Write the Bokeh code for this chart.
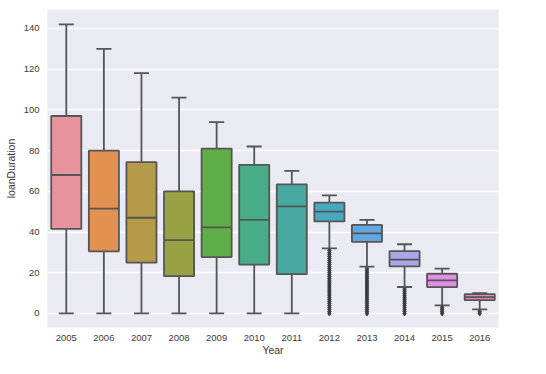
from bokeh.plotting import figure
from bokeh.models import ColumnDataSource, Range1d, FixedTicker
from bokeh.transform import dodge
from bokeh.embed import file_html
from bokeh.resources import INLINE

years = ["2005", "2006", "2007", "2008", "2009", "2010", "2011", "2012", "2013", "2014", "2015", "2016"]
lower_whisker = [0, 0, 0, 0, 0, 0, 0, 32, 23, 13, 4, 2]
q1 = [41.5, 30.5, 25, 18.3, 27.7, 24, 19.3, 45.2, 35.2, 23.1, 12.9, 6.5]
median = [68, 51.5, 47, 36, 42.3, 46, 52.6, 50, 39.3, 26.4, 16.2, 8]
q3 = [97, 80, 74.3, 60, 81, 73, 63.4, 54.4, 43.5, 30.6, 19.5, 9.5]
upper_whisker = [142, 130, 118, 106, 94, 82, 70, 58, 46, 34, 22, 10]

outliers = {
    "2012": [0, 1, 2, 3, 4, 5, 6, 7, 8, 9, 10, 11, 12, 13, 14, 15, 16, 17, 18, 19, 20, 21, 22, 23, 24, 25, 26, 27, 28, 29, 30, 31],
    "2013": [0, 1, 2, 3, 4, 5, 6, 7, 8, 9, 10, 11, 12, 13, 14, 15, 16, 17, 18, 19, 20, 21, 22],
    "2014": [0, 1, 2, 3, 4, 5, 6, 7, 8, 9, 10, 11, 12],
    "2015": [0, 1, 2, 3],
    "2016": [0, 1],
}

colors = ["#e8949f", "#e29150", "#b59a4a", "#97a245", "#60ae47", "#48ac88",
          "#47a8a0", "#47a9be", "#62a6df", "#aea4e8", "#e18ee8", "#e988b8"]

edge = "#555555"
text_color = "#3a3a3a"
font = "Liberation Sans"

src = ColumnDataSource(dict(year=years, lw=lower_whisker, q1=q1, med=median,
                            q3=q3, uw=upper_whisker, color=colors))

p = figure(x_range=years, y_range=Range1d(-6.9, 149.3), width=538, height=366,
           output_backend="svg", toolbar_location=None,
           min_border_left=47, min_border_right=40, min_border_top=9, min_border_bottom=39,
           background_fill_color="#eaeaf2", border_fill_color="white")
p.outline_line_color = None

# whiskers
p.segment(x0="year", y0="q3", x1="year", y1="uw", source=src, line_color=edge, line_width=1.8)
p.segment(x0="year", y0="lw", x1="year", y1="q1", source=src, line_color=edge, line_width=1.8)

# outliers
ox, oy = [], []
for yr, vals in outliers.items():
    for v in vals:
        ox.append(yr)
        oy.append(v)
p.scatter(x=ox, y=oy, marker="diamond", size=5, fill_color="#3c3c3c", line_color="#3c3c3c")

# caps
left_cap = dodge("year", -0.2, range=p.x_range)
right_cap = dodge("year", 0.2, range=p.x_range)
p.segment(x0=left_cap, y0="uw", x1=right_cap, y1="uw", source=src, line_color=edge, line_width=1.8)
p.segment(x0=left_cap, y0="lw", x1=right_cap, y1="lw", source=src, line_color=edge, line_width=1.8)

# boxes
p.vbar(x="year", bottom="q1", top="q3", width=0.8, source=src, fill_color="color",
       line_color=edge, line_width=1.8)
# medians
left_med = dodge("year", -0.4, range=p.x_range)
right_med = dodge("year", 0.4, range=p.x_range)
p.segment(x0=left_med, y0="med", x1=right_med, y1="med", source=src, line_color=edge, line_width=1.8)

p.xgrid.grid_line_color = None
p.ygrid.grid_line_color = "white"
p.ygrid.grid_line_width = 1.5
p.yaxis.ticker = FixedTicker(ticks=[0, 20, 40, 60, 80, 100, 120, 140])

for ax in (p.xaxis, p.yaxis):
    ax.axis_line_color = None
    ax.major_tick_line_color = None
    ax.minor_tick_line_color = None
    ax.major_tick_out = 0
    ax.major_label_text_font = font
    ax.major_label_text_font_size = "9.5px"
    ax.major_label_text_color = text_color
    ax.axis_label_text_font = font
    ax.axis_label_text_font_size = "10.5px"
    ax.axis_label_text_font_style = "normal"
    ax.axis_label_text_color = text_color

p.xaxis.major_label_standoff = 7
p.yaxis.major_label_standoff = 8
p.xaxis.axis_label = "Year"
p.yaxis.axis_label = "loanDuration"
p.xaxis.axis_label_standoff = 0
p.yaxis.axis_label_standoff = 4

open("out.html", "w").write(file_html(p, INLINE))
